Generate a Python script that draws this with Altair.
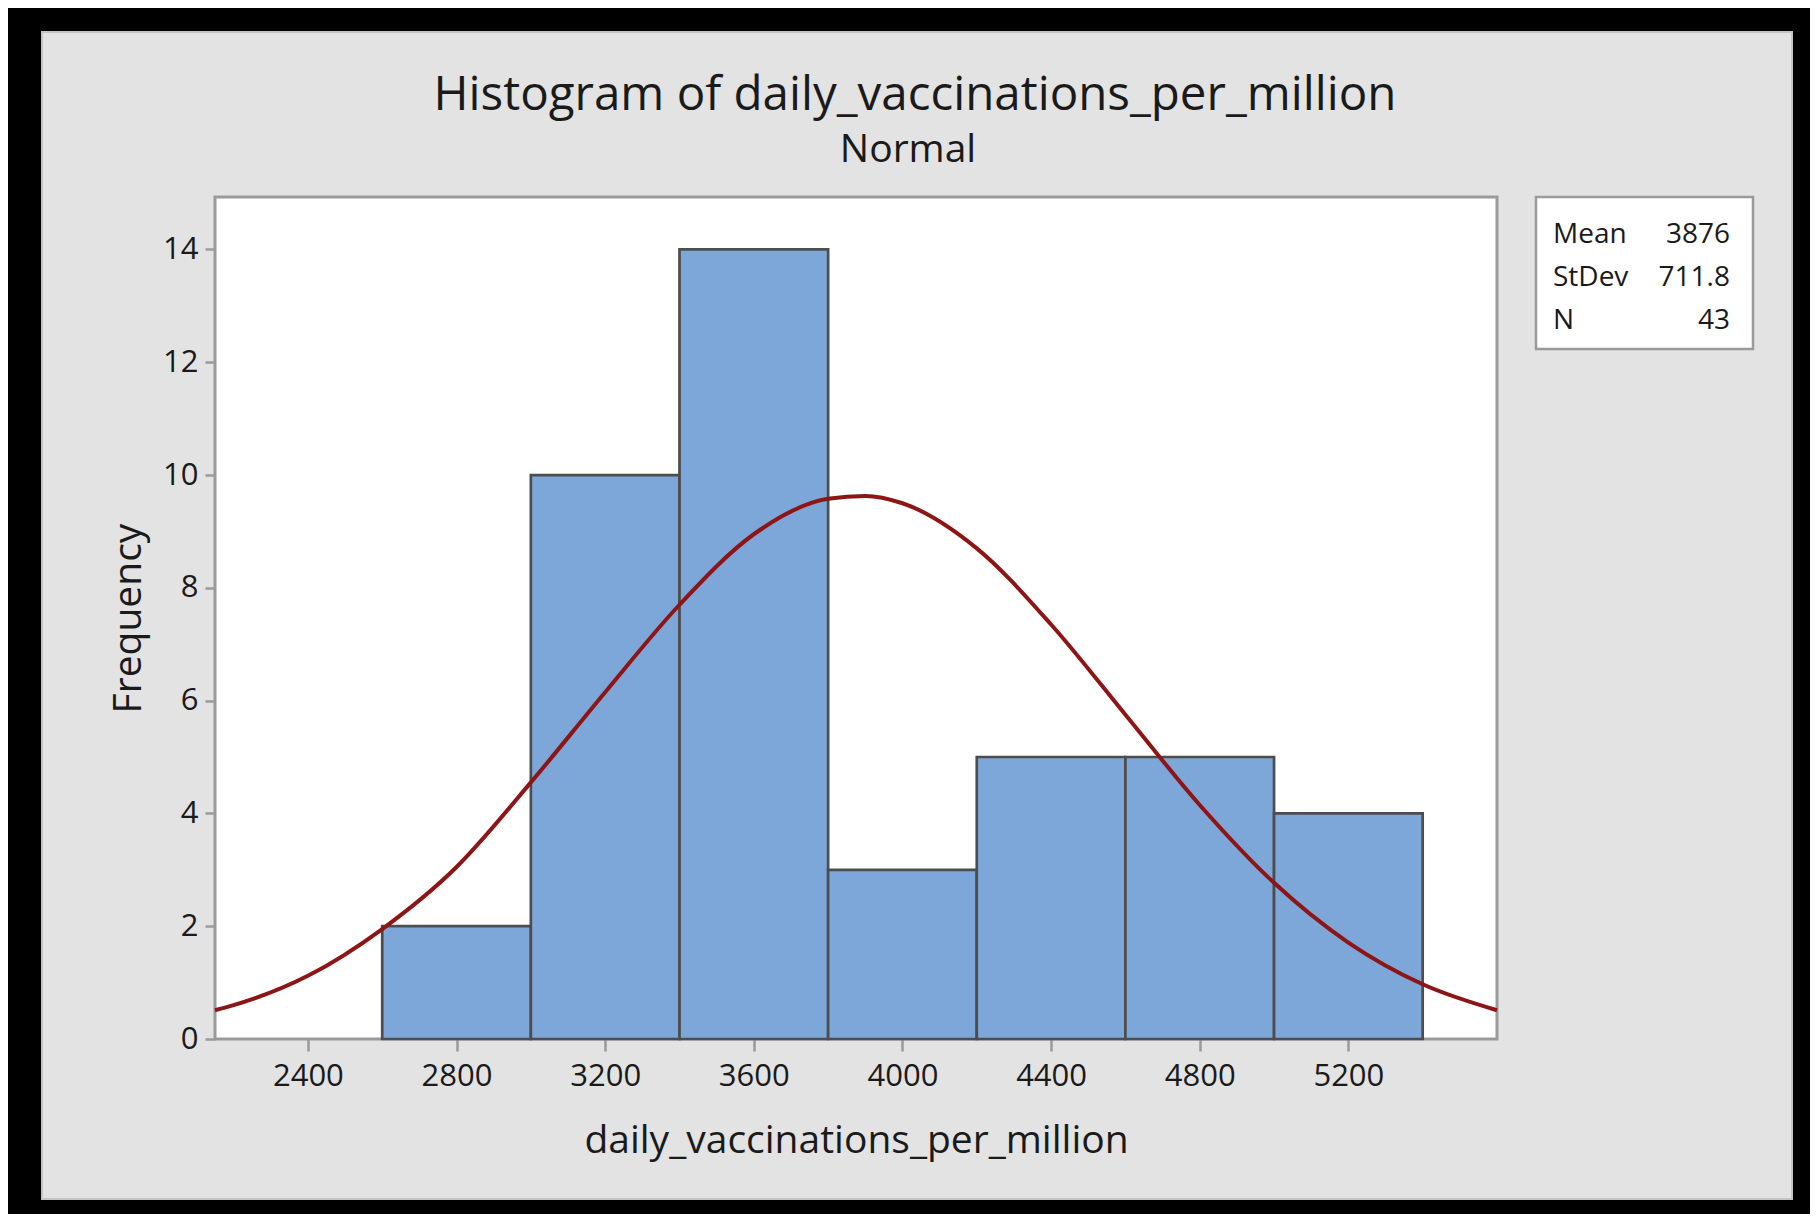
import altair as alt
import pandas as pd

# ---- data ----
bin_start = [2600, 3000, 3400, 3800, 4200, 4600, 5000]
bin_end = [3000, 3400, 3800, 4200, 4600, 5000, 5400]
frequency = [2, 10, 14, 3, 5, 5, 4]

curve_x = [2150, 2200, 2400, 2600, 2800, 3000, 3200, 3400, 3600, 3800, 3900,
           4000, 4200, 4400, 4600, 4800, 5000, 5200, 5400, 5600]
curve_y = [0.51, 0.60, 1.12, 1.95, 3.05, 4.55, 6.15, 7.70, 8.95, 9.58, 9.63,
           9.50, 8.70, 7.35, 5.75, 4.15, 2.77, 1.71, 0.97, 0.51]

stat_labels = ["Mean", "StDev", "N"]
stat_values = ["3876", "711.8", "43"]

x_ticks = [2400, 2800, 3200, 3600, 4000, 4400, 4800, 5200]
y_ticks = [0, 2, 4, 6, 8, 10, 12, 14]

title_text = "Histogram of daily_vaccinations_per_million"
subtitle_text = "Normal"
x_title = "daily_vaccinations_per_million"
y_title = "Frequency"

# ---- layout ----
FONT = "Open Sans"
TXT = "#1a1a1a"
W, H = 1282, 842
PAD_L, PAD_T = 207, 189
PAD_R = 1802 - PAD_L - W
PAD_B = 1206 - PAD_T - H

bars_df = pd.DataFrame({"start": bin_start, "end": bin_end, "freq": frequency})
curve_df = pd.DataFrame({"x": curve_x, "y": curve_y})
one = pd.DataFrame({"k": [0]})

xscale = alt.Scale(domain=[2150, 5600], nice=False, zero=False)
yscale = alt.Scale(domain=[0, 14.93], nice=False)

bars = alt.Chart(bars_df).mark_rect(
    fill="#7DA7D9", stroke="#4d4d4d", strokeWidth=2.7
).encode(
    x=alt.X("start:Q", scale=xscale,
            axis=alt.Axis(values=x_ticks, title=x_title, format="d")),
    x2="end:Q",
    y=alt.Y("freq:Q", scale=yscale,
            axis=alt.Axis(values=y_ticks, title=y_title, format="d")),
    y2=alt.datum(0),
)

curve = alt.Chart(curve_df).mark_line(
    color="#8E1515", strokeWidth=4, interpolate="monotone"
).encode(
    x=alt.X("x:Q", scale=xscale),
    y=alt.Y("y:Q", scale=yscale),
)

# outer black frame and thin inner panel edge (decoration)
frame = alt.Chart(one).mark_rect(
    fillOpacity=0, stroke="black", strokeWidth=60
).encode(
    x=alt.value(-203), x2=alt.value(1607), y=alt.value(-195), y2=alt.value(1032)
)
panel_edge = alt.Chart(one).mark_rect(
    fillOpacity=0, stroke="#c4c4c4", strokeWidth=2
).encode(
    x=alt.value(-173), x2=alt.value(1577), y=alt.value(-165), y2=alt.value(1002)
)

# title and subtitle
title_mark = alt.Chart(one).mark_text(
    align="center", baseline="alphabetic", font=FONT, fontSize=47.5, color=TXT
).encode(x=alt.value(700), y=alt.value(-87), text=alt.value(title_text))
subtitle_mark = alt.Chart(one).mark_text(
    align="center", baseline="alphabetic", font=FONT, fontSize=39, color=TXT
).encode(x=alt.value(693), y=alt.value(-35), text=alt.value(subtitle_text))

# statistics box
stat_box = alt.Chart(one).mark_rect(
    fill="white", stroke="#9a9a9a", strokeWidth=2.5
).encode(
    x=alt.value(1321), x2=alt.value(1538), y=alt.value(0), y2=alt.value(152)
)
stat_layers = []
for i, (lab, val) in enumerate(zip(stat_labels, stat_values)):
    ypix = 46 + i * 43
    stat_layers.append(
        alt.Chart(one).mark_text(align="left", baseline="alphabetic", font=FONT,
                                 fontSize=28, color=TXT)
        .encode(x=alt.value(1338), y=alt.value(ypix), text=alt.value(lab))
    )
    stat_layers.append(
        alt.Chart(one).mark_text(align="right", baseline="alphabetic", font=FONT,
                                 fontSize=28, color=TXT)
        .encode(x=alt.value(1515), y=alt.value(ypix), text=alt.value(val))
    )

chart = alt.layer(
    bars, curve, frame, panel_edge, title_mark, subtitle_mark, stat_box, *stat_layers
).properties(
    width=W,
    height=H,
    autosize=alt.AutoSizeParams(type="none"),
    padding={"left": PAD_L, "top": PAD_T, "right": PAD_R, "bottom": PAD_B},
    background="#e3e3e3",
).configure_view(
    fill="white", stroke="#9a9a9a", strokeWidth=3
).configure_axis(
    domain=False,
    grid=False,
    tickColor="#9a9a9a",
    tickWidth=2.5,
    labelFont=FONT,
    labelFontSize=31,
    labelColor=TXT,
    titleFont=FONT,
    titleFontSize=39,
    titleFontWeight="normal",
    titleColor=TXT,
).configure_axisX(
    tickSize=12,
    labelPadding=10,
    titlePadding=30,
).configure_axisY(
    tickSize=10,
    labelPadding=7,
    titlePadding=14,
)

chart.save("out.html", embed_options={"renderer": "svg", "actions": False})
